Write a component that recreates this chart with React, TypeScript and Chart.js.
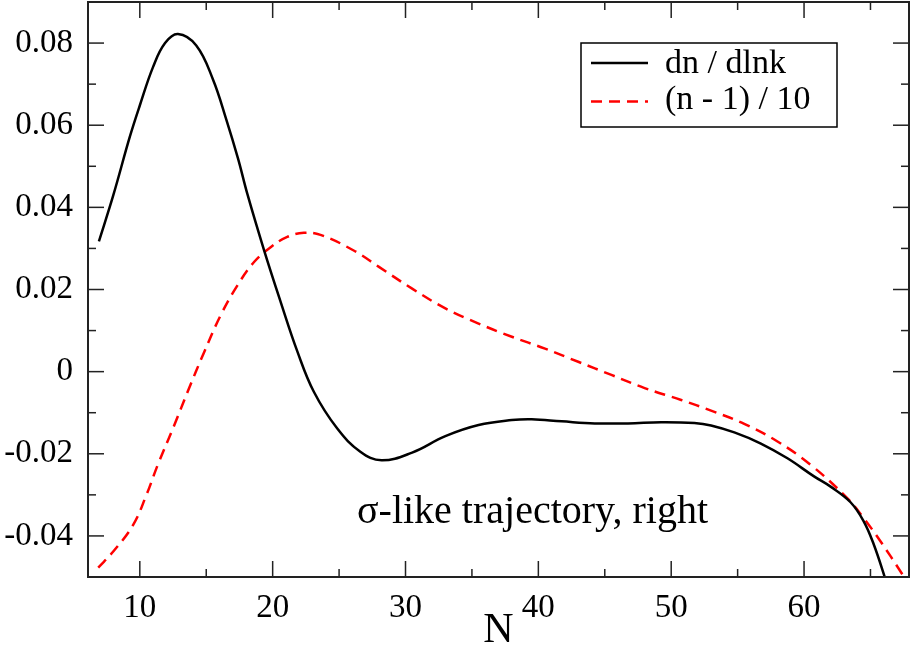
import { useEffect, useRef } from 'react';
import { Chart, registerables } from 'chart.js';

Chart.register(...registerables);

// dn / dlnk curve (solid black)
const dnN = [6.92, 8.0, 9.25, 10.0, 11.0, 11.9, 12.87, 14.25, 15.5, 16.5, 17.4, 18.1, 19.35, 20.6, 21.85, 23.1, 24.85, 26.6, 28.2, 30.5, 33, 35.5, 38, 39.5, 41.75, 44.25, 46.75, 49.25, 51.75, 53, 54.75, 56.75, 58.75, 60.75, 62, 63.5, 64.5, 65.25, 66.1, 66.3];
const dnVals = [0.0317, 0.0429, 0.0572, 0.0648, 0.0742, 0.0800, 0.0822, 0.0794, 0.0712, 0.0615, 0.0518, 0.0432, 0.0296, 0.0170, 0.0050, -0.0049, -0.0138, -0.0195, -0.0216, -0.0197, -0.0157, -0.0130, -0.0118, -0.0116, -0.0121, -0.0126, -0.0126, -0.0123, -0.0125, -0.0131, -0.0148, -0.0175, -0.0211, -0.0255, -0.0280, -0.0318, -0.0365, -0.0421, -0.0503, -0.0525];

// (n - 1) / 10 curve (dashed red)
const nsN = [6.87, 8.0, 9.5, 10.5, 11.35, 12.6, 13.6, 14.85, 16.1, 17.35, 18.6, 19.85, 21.1, 22.35, 23.6, 26.1, 28.0, 30.5, 33, 35.5, 38, 40.5, 43, 45.5, 48, 50.75, 53, 55.5, 58, 60.5, 63.25, 64.5, 65.75, 67.25, 68.0];
const nsVals = [-0.0477, -0.0438, -0.0373, -0.0300, -0.0227, -0.0130, -0.0049, 0.0048, 0.0138, 0.0210, 0.0267, 0.0303, 0.0328, 0.0338, 0.0333, 0.0295, 0.0255, 0.0202, 0.0154, 0.0117, 0.0085, 0.0056, 0.0024, -0.0008, -0.0040, -0.0069, -0.0095, -0.0127, -0.0170, -0.0227, -0.0308, -0.0357, -0.0413, -0.0486, -0.0525];

const xTicks = [10, 20, 30, 40, 50, 60];
const xMinor = [15, 25, 35, 45, 55, 65];
const yTicks = [-0.04, -0.02, 0, 0.02, 0.04, 0.06, 0.08];
const yMinor = [-0.05, -0.03, -0.01, 0.01, 0.03, 0.05, 0.07, 0.09];

const seriesLabels = ['dn / dlnk', '(n - 1) / 10'];
const note = 'σ-like trajectory, right';

const SERIF = '"Liberation Serif", "Times New Roman", serif';

// inward ticks on all four sides plus the frame
const frameTicks = {
  id: 'frameTicks',
  afterDatasetsDraw(chart: any) {
    const { ctx, chartArea: a, scales } = chart;
    const x = scales.x;
    const y = scales.y;
    ctx.save();
    ctx.strokeStyle = '#222';
    ctx.lineWidth = 1.5;
    const tick = (x1: number, y1: number, x2: number, y2: number) => {
      ctx.beginPath();
      ctx.moveTo(x1, y1);
      ctx.lineTo(x2, y2);
      ctx.stroke();
    };
    xTicks.forEach(v => {
      const p = x.getPixelForValue(v);
      tick(p, a.bottom, p, a.bottom - 16);
      tick(p, a.top, p, a.top + 16);
    });
    xMinor.forEach(v => {
      const p = x.getPixelForValue(v);
      tick(p, a.bottom, p, a.bottom - 8);
      tick(p, a.top, p, a.top + 8);
    });
    yTicks.forEach(v => {
      const p = y.getPixelForValue(v);
      tick(a.left, p, a.left + 16, p);
      tick(a.right, p, a.right - 16, p);
    });
    yMinor.forEach(v => {
      const p = y.getPixelForValue(v);
      tick(a.left, p, a.left + 8, p);
      tick(a.right, p, a.right - 8, p);
    });
    ctx.lineWidth = 2;
    ctx.strokeRect(a.left, a.top, a.right - a.left, a.bottom - a.top);
    ctx.restore();
  },
};

const legendBox = {
  id: 'legendBox',
  afterDraw(chart: any) {
    const { ctx } = chart;
    const ds = chart.data.datasets;
    ctx.save();
    ctx.fillStyle = '#fff';
    ctx.fillRect(581, 43, 256, 84);
    ctx.strokeStyle = '#000';
    ctx.lineWidth = 1.5;
    ctx.strokeRect(581, 43, 256, 84);
    ctx.font = `34px ${SERIF}`;
    ctx.textBaseline = 'alphabetic';
    ctx.fillStyle = '#000';
    ds.forEach((d: any, i: number) => {
      const ly = 63 + i * 38.5;
      ctx.strokeStyle = d.borderColor;
      ctx.lineWidth = 2.5;
      ctx.setLineDash(d.borderDash || []);
      ctx.beginPath();
      ctx.moveTo(591, ly);
      ctx.lineTo(648, ly);
      ctx.stroke();
      ctx.setLineDash([]);
      ctx.fillText(d.label, 665, 73 + i * 35.5);
    });
    ctx.font = `40px ${SERIF}`;
    ctx.fillText(note, 357, 523);
    ctx.restore();
  },
};

export default function App() {
  const canvasRef = useRef<HTMLCanvasElement>(null);
  const chartRef = useRef<any>(null);

  useEffect(() => {
    if (!canvasRef.current) return;
    if (chartRef.current) chartRef.current.destroy();

    chartRef.current = new Chart(canvasRef.current, {
      type: 'line',
      data: {
        datasets: [
          {
            label: seriesLabels[0],
            data: dnN.map((n, i) => ({ x: n, y: dnVals[i] })),
            borderColor: '#000',
            borderWidth: 2.5,
            pointRadius: 0,
            tension: 0.4,
          },
          {
            label: seriesLabels[1],
            data: nsN.map((n, i) => ({ x: n, y: nsVals[i] })),
            borderColor: '#ff0000',
            borderWidth: 2.5,
            borderDash: [11, 7],
            pointRadius: 0,
            tension: 0.4,
          },
        ],
      },
      options: {
        responsive: false,
        animation: false,
        layout: { padding: { left: 0, right: 4, top: 2, bottom: 0 } },
        plugins: {
          legend: { display: false },
          tooltip: { enabled: false },
        },
        scales: {
          x: {
            type: 'linear',
            min: 6.1,
            max: 67.9,
            grid: { display: false },
            border: { display: false },
            afterBuildTicks: (s: any) => {
              s.ticks = xTicks.map(v => ({ value: v }));
            },
            afterFit: (s: any) => {
              s.height = 72;
              s.paddingLeft = 0;
              s.paddingRight = 0;
            },
            ticks: {
              padding: 4,
              color: '#000',
              maxRotation: 0,
              font: { family: SERIF, size: 33 },
            },
            title: {
              display: true,
              text: 'N',
              color: '#000',
              padding: { top: 0, bottom: 5.6 },
              font: { family: SERIF, size: 42, lineHeight: 0.6 },
            },
          },
          y: {
            type: 'linear',
            min: -0.05,
            max: 0.09,
            grid: { display: false },
            border: { display: false },
            afterBuildTicks: (s: any) => {
              s.ticks = yTicks.map(v => ({ value: v }));
            },
            afterFit: (s: any) => {
              s.width = 88;
              s.paddingTop = 0;
              s.paddingBottom = 0;
            },
            ticks: {
              padding: 7,
              color: '#000',
              font: { family: SERIF, size: 33 },
              callback: (v: any) => (Math.abs(v) < 1e-9 ? '0' : Number(v).toFixed(2)),
            },
          },
        },
      },
      plugins: [frameTicks, legendBox],
    } as any);

    return () => {
      if (chartRef.current) chartRef.current.destroy();
      chartRef.current = null;
    };
  }, []);

  return (
    <div style={{ position: 'absolute', left: 0, top: 0, width: 913, height: 649, background: '#fff' }}>
      <canvas ref={canvasRef} width={913} height={649} style={{ display: 'block' }}></canvas>
    </div>
  );
}
